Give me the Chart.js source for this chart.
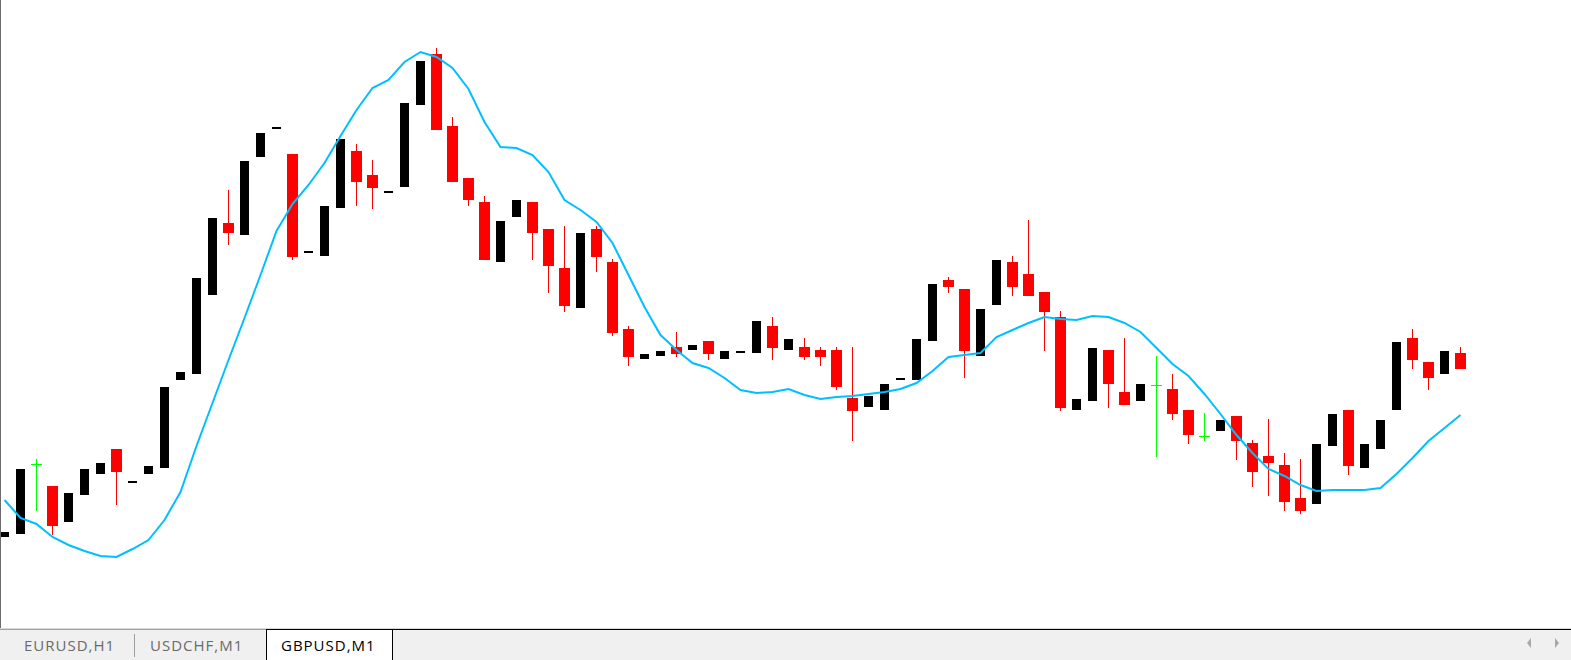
<!DOCTYPE html>
<html>
<head>
<meta charset="utf-8">
<script src="https://cdn.jsdelivr.net/npm/chart.js@4/dist/chart.umd.min.js"></script>
<style>
  html, body { margin: 0; padding: 0; background: #ffffff; overflow: hidden; }
  #wrap { position: relative; width: 1571px; height: 660px; }
  #chartBox { position: absolute; left: 0; top: 0; width: 1571px; height: 628px; }
  #leftEdge { position: absolute; left: 0; top: 0; width: 1px; height: 628px; background: #6b6b6b; }
  #sepLine { position: absolute; left: 0; top: 628px; width: 1571px; height: 1px; background: #dadada; }
  #tabbar { position: absolute; left: 0; top: 629px; width: 1571px; height: 31px; background: #f0f0f0; }
  #topGray { position: absolute; left: 0; top: 0; width: 266px; height: 1px; background: #a0a0a0; }
  #topBlack { position: absolute; left: 266px; top: 0; width: 1305px; height: 1px; background: #000; }
  .tab { position: absolute; top: 0; height: 31px; line-height: 31px; font-family: "Open Sans", sans-serif; font-size: 15px; letter-spacing: 1px; color: #6a6a6a; white-space: nowrap; }
  #active { position: absolute; left: 266px; top: 0; width: 127px; height: 31px; background: #fff; border-left: 1px solid #000; border-right: 1px solid #000; border-top: 1px solid #000; box-sizing: border-box; }
  #tabSep { position: absolute; left: 134px; top: 5px; width: 1px; height: 23px; background: #a0a0a0; }
  .arrL { position: absolute; left: 1527px; top: 9px; width: 0; height: 0; border-top: 5px solid transparent; border-bottom: 5px solid transparent; border-right: 4px solid #a8a8a8; }
  .arrR { position: absolute; left: 1555px; top: 9px; width: 0; height: 0; border-top: 5px solid transparent; border-bottom: 5px solid transparent; border-left: 4px solid #a8a8a8; }
</style>
</head>
<body>
<div id="wrap">
  <div id="chartBox"><canvas id="c" width="1571" height="628"></canvas></div>
  <div id="leftEdge"></div>
  <div id="sepLine"></div>
  <div id="tabbar">
    <div id="topGray"></div>
    <div id="topBlack"></div>
    <div id="active"></div>
    <div id="tabSep"></div>
    <span class="tab" style="left:24px;top:1px;">EURUSD,H1</span>
    <span class="tab" style="left:150px;top:1px;">USDCHF,M1</span>
    <span class="tab" style="left:281px;top:1px;color:#000;">GBPUSD,M1</span>
    <div class="arrL"></div>
    <div class="arrR"></div>
  </div>
</div>
<script>
// GBPUSD, M1 candles (price values)
const openPrices = [1.25093,1.25096,1.25165,1.25144,1.25108,1.25135,1.25156,1.25181,1.25147,1.25156,1.25162,1.25250,1.25256,1.25335,1.25407,1.25395,1.25473,1.25501,1.25476,1.25377,1.25374,1.25422,1.25479,1.25455,1.25437,1.25443,1.25525,1.25576,1.25504,1.25452,1.25428,1.25368,1.25413,1.25428,1.25401,1.25362,1.25322,1.25401,1.25368,1.25301,1.25271,1.25274,1.25283,1.25280,1.25289,1.25271,1.25277,1.25277,1.25304,1.25280,1.25283,1.25280,1.25280,1.25232,1.25223,1.25220,1.25250,1.25250,1.25289,1.25350,1.25341,1.25274,1.25325,1.25368,1.25356,1.25338,1.25313,1.25220,1.25229,1.25280,1.25238,1.25229,1.25244,1.25241,1.25220,1.25193,1.25199,1.25214,1.25187,1.25174,1.25165,1.25132,1.25126,1.25184,1.25220,1.25162,1.25181,1.25220,1.25292,1.25268,1.25256,1.25277];
const highPrices = [1.25098,1.25161,1.25171,1.25144,1.25137,1.25161,1.25167,1.25181,1.25149,1.25164,1.25243,1.25258,1.25352,1.25412,1.25440,1.25469,1.25497,1.25503,1.25476,1.25379,1.25424,1.25491,1.25486,1.25470,1.25439,1.25527,1.25569,1.25582,1.25513,1.25452,1.25434,1.25409,1.25430,1.25428,1.25401,1.25404,1.25397,1.25404,1.25371,1.25304,1.25276,1.25279,1.25298,1.25285,1.25289,1.25279,1.25279,1.25309,1.25313,1.25291,1.25292,1.25283,1.25283,1.25283,1.25234,1.25246,1.25252,1.25291,1.25346,1.25353,1.25341,1.25321,1.25370,1.25374,1.25410,1.25338,1.25319,1.25231,1.25282,1.25280,1.25292,1.25246,1.25274,1.25256,1.25220,1.25217,1.25210,1.25214,1.25190,1.25211,1.25177,1.25171,1.25186,1.25216,1.25220,1.25186,1.25210,1.25288,1.25301,1.25268,1.25279,1.25283];
const lowPrices = [1.25093,1.25096,1.25119,1.25095,1.25108,1.25135,1.25156,1.25125,1.25147,1.25156,1.25162,1.25250,1.25256,1.25335,1.25385,1.25395,1.25473,1.25501,1.25370,1.25377,1.25374,1.25422,1.25424,1.25421,1.25437,1.25443,1.25525,1.25500,1.25448,1.25424,1.25370,1.25368,1.25413,1.25370,1.25337,1.25318,1.25322,1.25358,1.25294,1.25264,1.25271,1.25274,1.25273,1.25280,1.25270,1.25271,1.25277,1.25277,1.25270,1.25280,1.25270,1.25264,1.25240,1.25189,1.25223,1.25220,1.25250,1.25250,1.25289,1.25337,1.25252,1.25274,1.25325,1.25334,1.25334,1.25279,1.25219,1.25220,1.25229,1.25222,1.25225,1.25229,1.25173,1.25210,1.25186,1.25189,1.25199,1.25170,1.25143,1.25134,1.25119,1.25116,1.25126,1.25184,1.25155,1.25162,1.25181,1.25220,1.25261,1.25240,1.25256,1.25261];
const closePrices = [1.25098,1.25161,1.25165,1.25104,1.25137,1.25161,1.25167,1.25158,1.25149,1.25164,1.25243,1.25258,1.25352,1.25412,1.25397,1.25469,1.25497,1.25503,1.25373,1.25379,1.25424,1.25491,1.25448,1.25442,1.25439,1.25527,1.25569,1.25500,1.25448,1.25430,1.25370,1.25409,1.25430,1.25397,1.25364,1.25324,1.25397,1.25373,1.25297,1.25273,1.25276,1.25279,1.25276,1.25285,1.25276,1.25279,1.25279,1.25309,1.25282,1.25291,1.25273,1.25273,1.25243,1.25219,1.25234,1.25246,1.25252,1.25291,1.25346,1.25343,1.25279,1.25321,1.25370,1.25343,1.25334,1.25318,1.25222,1.25231,1.25282,1.25246,1.25225,1.25246,1.25244,1.25216,1.25195,1.25193,1.25210,1.25189,1.25158,1.25167,1.25128,1.25119,1.25186,1.25216,1.25164,1.25186,1.25210,1.25288,1.25270,1.25252,1.25279,1.25261];
// moving average line
const maPrices = [1.25130,1.25112,1.25106,1.25093,1.25085,1.25079,1.25074,1.25073,1.25081,1.25090,1.25110,1.25138,1.25184,1.25227,1.25270,1.25312,1.25355,1.25399,1.25426,1.25445,1.25467,1.25494,1.25520,1.25542,1.25550,1.25568,1.25578,1.25573,1.25562,1.25541,1.25508,1.25483,1.25482,1.25475,1.25458,1.25430,1.25420,1.25408,1.25387,1.25355,1.25323,1.25295,1.25280,1.25267,1.25262,1.25252,1.25240,1.25237,1.25238,1.25241,1.25235,1.25231,1.25233,1.25234,1.25236,1.25238,1.25241,1.25247,1.25259,1.25273,1.25275,1.25277,1.25293,1.25300,1.25307,1.25313,1.25311,1.25310,1.25314,1.25313,1.25307,1.25298,1.25282,1.25266,1.25254,1.25236,1.25216,1.25195,1.25177,1.25161,1.25154,1.25145,1.25139,1.25140,1.25140,1.25140,1.25142,1.25156,1.25172,1.25189,1.25202,1.25215];

const candleIndex = openPrices.map((_, i) => i);

const upBodies = [], downBodies = [], dojiBodies = [], wicks = [], wickColors = [];
candleIndex.forEach(i => {
  const o = openPrices[i], c = closePrices[i];
  if (c > o) { upBodies.push({ x: i, y: [o, c] }); wickColors.push('#000000'); }
  else if (c < o) { downBodies.push({ x: i, y: [c, o] }); wickColors.push('#ff0000'); }
  else { dojiBodies.push({ x: i, y: [o, c] }); wickColors.push('#00ff00'); }
  wicks.push({ x: i, y: [lowPrices[i], highPrices[i]] });
});

const barCommon = { type: 'bar', grouped: false, borderWidth: 0, borderSkipped: false, inflateAmount: 0 };

new Chart(document.getElementById('c'), {
  type: 'bar',
  data: {
    datasets: [
      { type: 'line', label: 'MA', data: candleIndex.map(i => ({ x: i, y: maPrices[i] })), borderColor: '#00bfff', borderWidth: 2, pointRadius: 0, tension: 0, fill: false, order: 0 },
      Object.assign({ label: 'up', data: upBodies, backgroundColor: '#000000', barThickness: 9, minBarLength: 1, order: 1 }, barCommon),
      Object.assign({ label: 'down', data: downBodies, backgroundColor: '#ff0000', barThickness: 11, minBarLength: 1, order: 1 }, barCommon),
      Object.assign({ label: 'doji', data: dojiBodies, backgroundColor: '#00ff00', barThickness: 11, minBarLength: 1, order: 1 }, barCommon),
      Object.assign({ label: 'wick', data: wicks, backgroundColor: wickColors, barThickness: 1, minBarLength: 0, order: 2 }, barCommon)
    ]
  },
  options: {
    responsive: false,
    animation: false,
    devicePixelRatio: 1,
    layout: { padding: 0 },
    plugins: { legend: { display: false }, tooltip: { enabled: false } },
    scales: {
      x: { type: 'linear', offset: false, min: -0.28125, max: 97.90625, display: false, grid: { offset: false } },
      y: { type: 'linear', min: 1.25002, max: 1.25630, display: false }
    }
  }
});
</script>
</body>
</html>
